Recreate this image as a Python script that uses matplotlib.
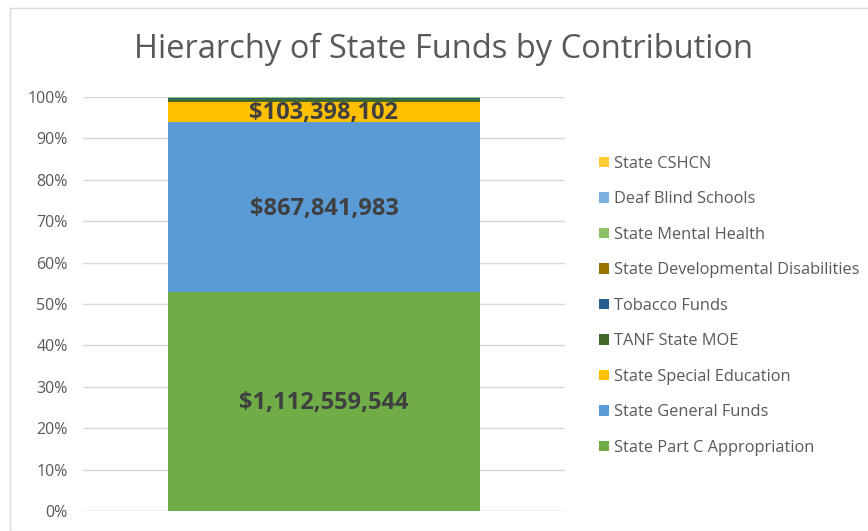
import numpy as np
import matplotlib.pyplot as plt
from matplotlib.patches import Rectangle

plt.rcParams['font.family'] = ['Open Sans', 'DejaVu Sans']

# stacked bottom -> top
sources = ['State Part C Appropriation', 'State General Funds', 'State Special Education',
           'TANF State MOE', 'Tobacco Funds', 'State Developmental Disabilities',
           'State Mental Health', 'Deaf Blind Schools', 'State CSHCN']
amounts = np.array([1112559544, 867841983, 103398102,
                    14000000, 3000000, 2500000, 1500000, 1200000, 1000000], dtype=float)
colors = ['#70AD47', '#5B9BD5', '#FFC000', '#43682B', '#255E91', '#997300',
          '#8CC168', '#7CAFDD', '#FFCD33']
labelled = [0, 1, 2]

share = amounts / amounts.sum() * 100

fig = plt.figure(figsize=(8.68, 5.31), dpi=100)
ax = fig.add_axes([83/868, 1-511/531, 482/868, 414/531])

bottom = 0.0
bars = []
for i, (name, v, c) in enumerate(zip(sources, share, colors)):
    b = ax.bar(0, v, width=0.647, bottom=bottom, color=c, label=name, zorder=2)
    bars.append(b)
    if i in labelled:
        ax.text(0, bottom + v/2 - 0.4, '${:,.0f}'.format(amounts[i]), ha='center', va='center',
                fontsize=17, fontweight='bold', color='#404040', zorder=3)
    bottom += v

ax.set_xlim(-0.5, 0.5)
ax.set_ylim(0, 100)
ax.set_yticks(np.arange(0, 101, 10))
ax.set_yticklabels(['{}%'.format(t) for t in range(0, 101, 10)])
ax.set_xticks([])
ax.tick_params(axis='y', length=0, pad=11, labelsize=11.5, labelcolor='#595959')
ax.grid(axis='y', color='#D9D9D9', linewidth=1, zorder=0)
for s in ax.spines.values():
    s.set_visible(False)
ax.axhline(0, color='#D9D9D9', linewidth=1, zorder=1)

fig.text(444/868, 1-49/531, 'Hierarchy of State Funds by Contribution', ha='center', va='center',
         fontsize=23.5, color='#595959')

handles = [b[0] for b in bars][::-1]
names = sources[::-1]
fig.legend(handles, names, loc='upper left', bbox_to_anchor=(584/868, 1-141/531),
           frameon=False, fontsize=11.8, labelcolor='#595959', handlelength=0.6,
           handleheight=0.6, handletextpad=0.3, labelspacing=1.19)

fig.patches.append(Rectangle((10/868, 0), 1, 1-8/531, transform=fig.transFigure,
                             fill=False, edgecolor='#D9D9D9', linewidth=1))

fig.savefig('out.png', dpi=100)
